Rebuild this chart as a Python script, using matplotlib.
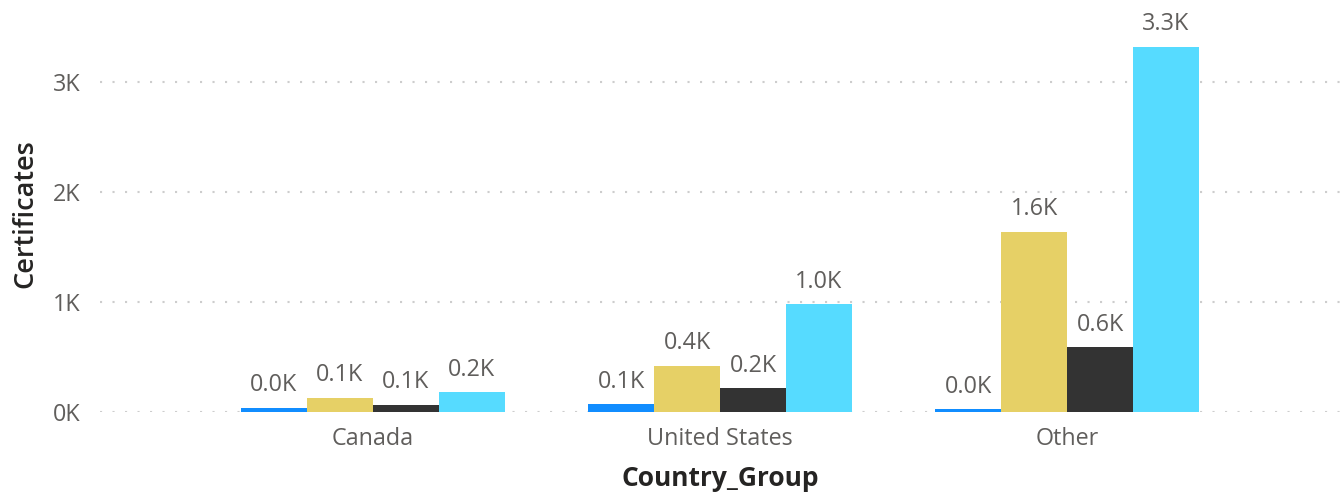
import matplotlib.pyplot as plt
import numpy as np

categories = ['Canada', 'United States', 'Other']
series_blue = [40, 70, 25]
series_yellow = [130, 420, 1640]
series_dark = [65, 215, 590]
series_cyan = [180, 980, 3320]
y_ticks = [0, 1000, 2000, 3000]
y_tick_labels = ['0K', '1K', '2K', '3K']

colors = ['#118DFF', '#E6D066', '#333333', '#56DBFF']
all_series = [series_blue, series_yellow, series_dark, series_cyan]

plt.rcParams['font.family'] = ['Open Sans', 'DejaVu Sans']

fig = plt.figure(figsize=(13.44, 4.97), dpi=100)
ax = fig.add_axes([0.0744, 0.171, 0.9226, 0.797])

x = np.arange(len(categories))
w = 0.19
for i, (vals, c) in enumerate(zip(all_series, colors)):
    pos = x + (i - 1.5) * w
    ax.bar(pos, vals, width=w, color=c, zorder=3)
    for px, v in zip(pos, vals):
        ax.text(px, v + 95, '%.1fK' % (v / 1000.0), ha='center', va='bottom',
                fontsize=16.8, color='#605E5C')

ax.set_xlim(-0.786, 2.786)
ax.set_ylim(0, 3600)
ax.set_yticks(y_ticks)
ax.set_yticklabels(y_tick_labels)
ax.set_xticks(x)
ax.set_xticklabels(categories)
ax.tick_params(axis='both', length=0, labelsize=16.8, labelcolor='#605E5C')
ax.tick_params(axis='y', pad=14)
ax.tick_params(axis='x', pad=11)
ax.yaxis.grid(True, linestyle=(0, (1, 5)), color='#CDCDCD', linewidth=1.5, zorder=0)
for s in ax.spines.values():
    s.set_visible(False)

ax.set_ylabel('Certificates', fontsize=19.5, color='#252423', fontweight='semibold', labelpad=10)
ax.set_xlabel('Country_Group', fontsize=19, color='#252423', fontweight='bold', labelpad=10)

plt.savefig('out.png')
